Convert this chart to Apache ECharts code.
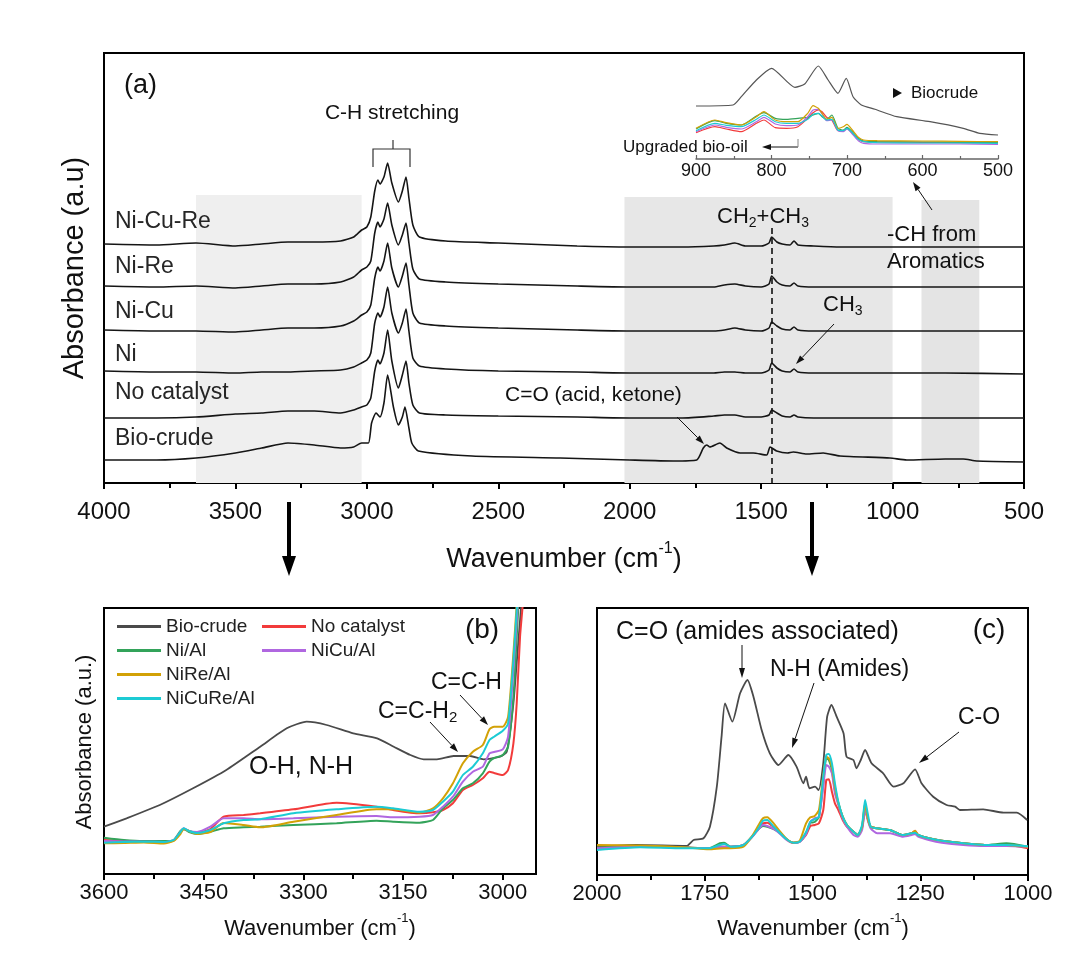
<!DOCTYPE html>
<html>
<head>
<meta charset="utf-8">
<title>FTIR spectra</title>
<script src="https://cdn.jsdelivr.net/npm/echarts@6.0.0/dist/echarts.min.js"></script>
<style>
html, body { margin: 0; padding: 0; background: #fff; }
#main { width: 1080px; height: 957px; }
</style>
</head>
<body>
<div id="main"></div>
<script>
//(a) 主图 - 催化剂各曲线共用的波数
var waveA = [4000, 3800, 3650, 3500, 3400, 3300, 3200, 3100, 3050, 3020, 3000, 2985, 2970, 2958, 2950, 2935, 2921, 2905, 2880, 2865, 2851, 2840, 2825, 2800, 2700, 2500, 2200, 2000, 1800, 1680, 1640, 1600, 1560, 1500, 1470, 1460, 1440, 1420, 1390, 1375, 1360, 1300, 1200, 1000, 800, 500];
var niCuReA = [239, 238, 240, 237, 239, 241, 241, 242, 246, 253, 256, 266, 292, 303, 299, 306, 320, 300, 281, 292, 306, 285, 258, 246, 242, 240, 237, 236, 236, 237, 238, 240, 237, 237, 240, 246, 241, 239, 238, 242, 238, 237, 236, 236, 236, 236];
var niReA = [197, 196, 197, 195, 197, 199, 199, 201, 206, 213, 216, 222, 250, 261, 256, 264, 280, 258, 238, 248, 260, 240, 214, 204, 201, 199, 197, 196, 196, 196, 198, 199, 197, 196, 199, 207, 201, 198, 197, 200, 197, 196, 196, 196, 196, 196];
var niCuA = [153, 152, 152, 151, 153, 155, 155, 157, 162, 168, 171, 178, 205, 216, 212, 222, 240, 215, 196, 207, 220, 198, 170, 160, 157, 155, 153, 152, 152, 152, 153, 155, 153, 152, 155, 161, 157, 154, 153, 156, 153, 152, 152, 152, 152, 152];
var niA = [112, 111, 111, 110, 111, 111, 112, 113, 116, 120, 123, 130, 160, 170, 166, 176, 196, 170, 150, 160, 174, 152, 125, 117, 114, 112, 111, 110, 110, 110, 111, 111, 110, 110, 113, 120, 115, 112, 111, 114, 111, 110, 110, 110, 110, 109];
var noCatA = [65, 65, 66, 69, 70, 72, 72, 70, 73, 76, 78, 85, 112, 123, 119, 130, 153, 122, 95, 108, 122, 100, 78, 70, 68, 67, 66, 65, 65, 67, 68, 68, 66, 66, 68, 73, 70, 67, 66, 68, 66, 65, 65, 65, 65, 65];
//(a) 主图 - 生物原油
var bioWaveA = [4000, 3800, 3650, 3500, 3400, 3300, 3200, 3100, 3050, 3020, 2994, 2982, 2965, 2950, 2935, 2921, 2899, 2880, 2865, 2855, 2840, 2829, 2804, 2600, 2265, 2000, 1834, 1745, 1720, 1707, 1695, 1657, 1631, 1580, 1530, 1479, 1466, 1441, 1400, 1378, 1327, 1264, 1200, 1010, 946, 800, 731, 680, 500];
var bioA = [23, 23, 25, 30, 35, 40, 38, 35, 36, 40, 40, 60, 70, 66, 80, 108, 76, 58, 66, 76, 55, 40, 32, 27, 25, 23, 22, 23, 35, 38, 36, 40, 35, 30, 30, 28, 36, 32, 30, 31, 29, 30, 27, 25, 23, 24, 24, 22, 21];
var namesA = ['Ni-Cu-Re', 'Ni-Re', 'Ni-Cu', 'Ni', 'No catalyst', 'Bio-crude'];
//(a) 阴影区间 [起, 止, 高]
var shadeA = [[3650, 3020, 288], [2020, 1000, 286], [890, 670, 283]];
var dashA = [1460, 255];

//插图 900-500
var waveIn = [900, 875, 860, 840, 820, 810, 795, 780, 765, 752, 745, 738, 733, 727, 720, 712, 705, 700, 693, 685, 678, 660, 600, 550, 500];
var goldIn = [30.7, 39, 36.3, 34, 42.3, 47.3, 39, 37.3, 37.3, 45.7, 53.3, 50.7, 45.7, 39.7, 41.7, 30.7, 32.3, 34.7, 29, 21.7, 19, 18.3, 18, 17.7, 17.3];
var greenIn = [30, 38.3, 35.7, 34, 43, 46.3, 40.7, 39.7, 40.7, 41.7, 44, 45.7, 42.3, 39.7, 44, 30.7, 29, 31.7, 27.3, 20.7, 18, 17.3, 17, 16.7, 16.7];
var cyanIn = [28.3, 35.7, 33.7, 32.3, 39.7, 44, 37.3, 35.7, 35.7, 39.7, 44.7, 45.7, 43, 39, 39.7, 29, 28.3, 30.7, 26.3, 19.7, 17.3, 16.3, 16, 16, 15.7];
var purpleIn = [27.3, 34, 31.7, 30, 37.3, 41.7, 35, 33.3, 34, 42.3, 49, 49.7, 45, 38.3, 39, 28.3, 27.3, 30, 25, 18.3, 15.7, 15, 15, 15, 14.7];
var redIn = [26.3, 32.3, 30, 27.3, 35.7, 39, 31.3, 30.7, 32.3, 40.7, 46.3, 49, 47.3, 41.7, 39, 28.3, 28.3, 30.7, 25.7, 19.7, 17.3, 17, 16.7, 16.3, 16.3];
var bioWaveIn = [900, 851, 840, 820, 800, 769, 756, 738, 725, 712, 701, 692, 681, 663, 634, 590, 546, 524, 500];
var bioIn = [53, 54, 62.3, 79, 90.7, 71.7, 75, 93, 79, 65.7, 80.7, 62.3, 54, 49.7, 42.3, 37.3, 30.7, 25.7, 24];

//(b) 3600-2950
var waveB = [3600, 3570, 3540, 3510, 3495, 3485, 3480, 3472, 3460, 3440, 3420, 3390, 3365, 3315, 3250, 3190, 3165, 3125, 3105, 3090, 3075, 3060, 3045, 3030, 3020, 3013, 3000, 2992, 2984, 2979, 2974, 2969, 2960, 2950];
var redB = [34, 33, 32.3, 32, 33.5, 42, 45, 43, 41, 45, 57.3, 59, 60.7, 64.7, 71.3, 67.3, 64, 60.7, 61.7, 64, 70.7, 84, 89, 95.7, 102.3, 101, 99, 104, 130.7, 170.7, 237.3, 277.3, 400, 520];
var greenB = [36.3, 34, 33, 33, 34, 43, 45, 42, 40, 42.3, 45.7, 46.7, 47.3, 49, 50.7, 53.3, 52.3, 51.3, 54, 65.7, 74, 85.7, 90.7, 100.7, 112.3, 116, 119, 127.3, 177.3, 237.3, 300, 360, 480, 600];
var purpleB = [33, 32.5, 32.3, 32, 34, 42, 45.7, 43, 42, 47.3, 55.7, 55.7, 54.7, 55.7, 57.3, 58, 56.7, 57.3, 59, 67.3, 77.3, 92.3, 102.3, 107.3, 120.7, 122, 124.7, 137.3, 204, 254, 310, 370, 490, 600];
var goldB = [30.7, 31, 31.5, 30.5, 33, 40, 45, 43, 40, 42, 51, 49, 46.7, 52.3, 59, 64.7, 64.7, 61.3, 65.7, 75.7, 90.7, 110.7, 122.3, 129, 144.7, 147.3, 147.3, 157, 220.7, 270, 320, 380, 500, 600];
var cyanB = [31.3, 32, 32.3, 32, 34, 42, 45.7, 43, 41, 44, 50.7, 54, 54.7, 60.7, 64.7, 67.3, 65.7, 62.3, 64, 72.3, 82.3, 99, 107.3, 120.7, 134, 137.3, 143.3, 150.7, 214, 264, 320, 380, 500, 600];
var bioWaveB = [3600, 3566, 3516, 3466, 3416, 3365, 3325, 3295, 3265, 3225, 3189, 3164, 3139, 3119, 3099, 3074, 3049, 3029, 3004, 2994, 2984, 2976, 2971, 2960, 2950];
var bioB = [47.3, 55.7, 69, 85.7, 104, 127.3, 145.7, 152.3, 149, 140.7, 135.7, 127.3, 119, 114.7, 114.7, 118, 118, 114.7, 117.3, 122.3, 170.7, 237.3, 280, 400, 500];
var ticksB = [3600, 3450, 3300, 3150, 3000];
var minorB = [3525, 3375, 3225, 3075];

//(c) 2000-1000
var waveC = [2000, 1900, 1800, 1740, 1715, 1705, 1690, 1660, 1640, 1625, 1615, 1605, 1590, 1575, 1560, 1545, 1530, 1515, 1505, 1495, 1485, 1475, 1468, 1462, 1455, 1448, 1440, 1430, 1420, 1405, 1395, 1385, 1378, 1372, 1365, 1350, 1320, 1290, 1270, 1262, 1255, 1230, 1200, 1150, 1100, 1050, 1000];
var redC = [27.5, 29, 27.7, 26.7, 28.3, 28.3, 28.3, 30, 38.3, 46.7, 51.7, 52.3, 48, 41.7, 35.7, 32.3, 33.3, 40, 49, 50, 51.7, 65, 95, 95.7, 83.3, 71.7, 65, 55, 48.3, 43.3, 40, 47, 65, 56.7, 48.3, 46.7, 45, 40, 41.7, 44.3, 40, 36.7, 34.3, 31.7, 30, 30, 26.7];
var greenC = [27.5, 29, 27.7, 26.7, 31.7, 32.3, 28.3, 30, 38.3, 46, 49, 48.3, 46, 41.7, 35.7, 32.3, 33.3, 41.7, 52, 53, 58.3, 91.7, 116.7, 115, 105, 85, 71.7, 58.3, 50, 43.3, 40, 48.3, 70, 56.7, 48.3, 46.7, 45, 40, 41.7, 42.3, 40, 36.7, 34.3, 31.7, 30, 31.7, 28.3];
var purpleC = [26.7, 28.5, 27.3, 26.7, 28.3, 28.3, 28.3, 30, 38, 46, 50, 49, 46, 41, 35, 32, 33, 41, 53.3, 56.7, 58.3, 88.3, 110, 108.3, 101.7, 81.7, 70, 56.7, 48.3, 40, 38.3, 45, 65, 55, 46.7, 41.7, 41.7, 38.3, 40, 41, 38.3, 35, 32.3, 30, 29, 29, 28];
var goldC = [30, 29.5, 27.7, 25.7, 26.5, 26.7, 26.7, 28.3, 39, 50, 56.7, 57.7, 51.7, 43.3, 36, 32.3, 34, 51.7, 57.7, 59, 65, 100, 118.3, 116.7, 108.3, 88, 72, 58.3, 50, 43.3, 40, 48.3, 71.7, 56.7, 48.3, 46.7, 45, 40, 41.7, 44.3, 40, 36.7, 34.3, 31.7, 30, 30, 28.3];
var cyanC = [25, 27.7, 26.7, 26.7, 30, 31, 28.3, 30, 38.3, 47, 54.3, 55, 48.3, 41.7, 35.7, 32.3, 33.3, 43, 53.3, 55.7, 58.3, 98.3, 120, 121, 111.7, 91.7, 73, 58.3, 50, 43.3, 40, 50, 75, 61.7, 48.3, 46.7, 45, 40, 41.7, 42.3, 40, 36.7, 34.3, 31.7, 30, 30, 28.7];
var bioWaveC = [2000, 1908, 1792, 1776, 1753, 1738, 1722, 1711, 1703, 1686, 1668, 1651, 1637, 1618, 1599, 1579, 1556, 1537, 1521, 1515, 1507, 1494, 1486, 1475, 1466, 1456, 1444, 1428, 1421, 1405, 1398, 1388, 1378, 1363, 1336, 1312, 1289, 1262, 1247, 1220, 1189, 1169, 1158, 1104, 1057, 1026, 1002];
var bioC = [28.3, 30, 29, 35, 36.7, 48.3, 88.3, 138.3, 171.7, 153.3, 181.7, 195, 178.3, 145, 121.7, 110, 120, 108.3, 91.7, 98.3, 86.7, 88.3, 85, 111.7, 158.3, 170, 158.3, 141.7, 118.3, 115, 106.7, 115, 125, 111.7, 101.7, 88.3, 91.7, 105.7, 91.7, 78.3, 70, 68.3, 65, 65.7, 62.3, 62.3, 55];
var minorC = [1875, 1625, 1375, 1125];

var FONT = 'Arial, "Liberation Sans", Helvetica, sans-serif';
var COL = {
    bio: '#4a4a4a',
    red: '#f23b3b',
    green: '#33a35a',
    purple: '#b067e0',
    gold: '#d2a106',
    cyan: '#1ccbd4'
};

//把两个数组组合成点
function zip(xs, ys) {
    var r = [];
    for (var i = 0; i < xs.length; i++) {
        r.push([xs[i], ys[i]]);
    }
    return r;
}

//刻度文字不加千分位
function plain(v) {
    return String(v);
}

//折线系列
function line(name, idx, xs, ys, color, width) {
    return {
        name: name,
        type: 'line',
        xAxisIndex: idx.x,
        yAxisIndex: idx.y,
        data: zip(xs, ys),
        symbol: 'none',
        smooth: 0.2,
        color: color,
        lineStyle: { color: color, width: width },
        silent: true
    };
}

//文本
function txt(x, y, text, size, opt) {
    opt = opt || {};
    var st = {
        text: text,
        fill: opt.color || '#111',
        fontSize: size,
        fontFamily: FONT,
        align: opt.align || 'left',
        verticalAlign: 'middle',
        textAlign: opt.align || 'left',
        textVerticalAlign: 'middle'
    };
    if (opt.rich) st.rich = opt.rich;
    return { type: 'text', x: x, y: y, rotation: opt.rot || 0, z: 100, silent: true, style: st };
}

//箭头（线 + 三角）
function arrow(x1, y1, x2, y2, lw, hl, hw, c) {
    c = c || '#111';
    var ang = Math.atan2(y2 - y1, x2 - x1);
    var bx = x2 - hl * Math.cos(ang), by = y2 - hl * Math.sin(ang);
    var px = -Math.sin(ang) * hw / 2, py = Math.cos(ang) * hw / 2;
    return [{
        type: 'line', z: 100, silent: true,
        shape: { x1: x1, y1: y1, x2: bx, y2: by },
        style: { stroke: c, lineWidth: lw }
    }, {
        type: 'polygon', z: 100, silent: true,
        shape: { points: [[x2, y2], [bx + px, by + py], [bx - px, by - py]] },
        style: { fill: c }
    }];
}

//上标 / 下标 富文本
function supRich(size) {
    return {
        n: { fontSize: size, fontFamily: FONT, lineHeight: size + 6, verticalAlign: 'bottom' },
        p: { fontSize: Math.round(size * 0.6), fontFamily: FONT, lineHeight: Math.round(size * 0.6), verticalAlign: 'top' }
    };
}
function subRich(size) {
    return {
        n: { fontSize: size, fontFamily: FONT, lineHeight: size + 2, verticalAlign: 'top' },
        b: { fontSize: Math.round(size * 0.64), fontFamily: FONT, lineHeight: Math.round(size * 0.64), padding: [Math.round(size * 0.64), 0, 0, 0], verticalAlign: 'bottom' }
    };
}

//横轴（主刻度朝外）
function xMain(grid, min, max, interval, fontSize, margin, custom) {
    var ax = {
        type: 'value', gridIndex: grid, min: min, max: max, inverse: true,
        axisLine: { show: true, onZero: false, lineStyle: { color: '#000', width: 2 } },
        axisTick: { show: true, inside: false, length: 6, lineStyle: { color: '#000', width: 2 } },
        axisLabel: { fontSize: fontSize, color: '#111', fontFamily: FONT, margin: margin, formatter: plain },
        splitLine: { show: false }
    };
    if (custom) {
        ax.axisLabel.customValues = custom;
        ax.axisTick.customValues = custom;
    } else {
        ax.interval = interval;
    }
    return ax;
}
//横轴（次刻度朝内）
function xMinor(grid, min, max, vals) {
    return {
        type: 'value', gridIndex: grid, min: min, max: max, inverse: true,
        axisLine: { show: false },
        axisTick: { show: true, inside: true, length: 5, customValues: vals, lineStyle: { color: '#000', width: 2 } },
        axisLabel: { show: false, customValues: vals },
        splitLine: { show: false }
    };
}
function yHidden(grid, max, showLine) {
    return {
        type: 'value', gridIndex: grid, min: 0, max: max,
        axisLine: { show: showLine, lineStyle: { color: '#000', width: 2 } },
        axisTick: { show: false },
        axisLabel: { show: false },
        splitLine: { show: false }
    };
}

function initChart() {
    var myChart = echarts.init(document.getElementById('main'));

    var series = [];
    //(a)
    var bioSerie = line('Bio-crude (a)', { x: 0, y: 0 }, bioWaveA, bioA, '#151515', 1.6);
    var areas = [];
    var shadeCol = ['#efefef', '#e7e7e7', '#e4e4e4'];
    for (var i = 0; i < shadeA.length; i++) {
        areas.push([{ xAxis: shadeA[i][0], yAxis: shadeA[i][2], itemStyle: { color: shadeCol[i] } }, { xAxis: shadeA[i][1], yAxis: 0 }]);
    }
    bioSerie.markArea = { silent: true, data: areas };
    bioSerie.markLine = {
        silent: true, symbol: ['none', 'none'], label: { show: false },
        lineStyle: { type: [6, 4], color: '#111', width: 1.6 },
        data: [[{ coord: [dashA[0], dashA[1]] }, { coord: [dashA[0], 0] }]]
    };
    series.push(bioSerie);
    var aData = [niCuReA, niReA, niCuA, niA, noCatA];
    for (var j = 0; j < aData.length; j++) {
        series.push(line(namesA[j] + ' (a)', { x: 0, y: 0 }, waveA, aData[j], '#151515', 1.6));
    }
    //插图
    series.push(line('Biocrude inset', { x: 2, y: 1 }, bioWaveIn, bioIn, '#555', 1.2));
    series.push(line('No catalyst inset', { x: 2, y: 1 }, waveIn, redIn, COL.red, 1.2));
    series.push(line('Ni inset', { x: 2, y: 1 }, waveIn, greenIn, COL.green, 1.2));
    series.push(line('NiCu inset', { x: 2, y: 1 }, waveIn, purpleIn, COL.purple, 1.2));
    series.push(line('NiRe inset', { x: 2, y: 1 }, waveIn, goldIn, COL.gold, 1.2));
    series.push(line('NiCuRe inset', { x: 2, y: 1 }, waveIn, cyanIn, COL.cyan, 1.2));
    //(b)
    series.push(line('Bio-crude', { x: 3, y: 2 }, bioWaveB, bioB, COL.bio, 1.8));
    series.push(line('No catalyst', { x: 3, y: 2 }, waveB, redB, COL.red, 2));
    series.push(line('Ni/Al', { x: 3, y: 2 }, waveB, greenB, COL.green, 2));
    series.push(line('NiCu/Al', { x: 3, y: 2 }, waveB, purpleB, COL.purple, 2));
    series.push(line('NiRe/Al', { x: 3, y: 2 }, waveB, goldB, COL.gold, 2));
    series.push(line('NiCuRe/Al', { x: 3, y: 2 }, waveB, cyanB, COL.cyan, 2));
    //(c)
    series.push(line('Bio-crude', { x: 5, y: 3 }, bioWaveC, bioC, COL.bio, 1.8));
    series.push(line('No catalyst', { x: 5, y: 3 }, waveC, redC, COL.red, 2));
    series.push(line('Ni/Al', { x: 5, y: 3 }, waveC, greenC, COL.green, 2));
    series.push(line('NiCu/Al', { x: 5, y: 3 }, waveC, purpleC, COL.purple, 2));
    series.push(line('NiRe/Al', { x: 5, y: 3 }, waveC, goldC, COL.gold, 2));
    series.push(line('NiCuRe/Al', { x: 5, y: 3 }, waveC, cyanC, COL.cyan, 2));

    //坐标轴
    var insetAxis = {
        type: 'value', gridIndex: 1, min: 500, max: 900, interval: 100, inverse: true,
        axisLine: { show: true, onZero: false, lineStyle: { color: '#666', width: 1.5 } },
        axisTick: { show: true, inside: true, length: 4, lineStyle: { color: '#666', width: 1.2 } },
        minorTick: { show: true, splitNumber: 2, length: 3, lineStyle: { color: '#666', width: 1.2 } },
        axisLabel: { fontSize: 18, color: '#111', fontFamily: FONT, margin: 3, formatter: plain },
        splitLine: { show: false }
    };
    var xAxis = [
        xMain(0, 500, 4000, 500, 24, 17),
        xMinor(0, 500, 4000, [3750, 3250, 2750, 2250, 1750, 1250, 750]),
        insetAxis,
        xMain(2, 2950, 3600, null, 22, 8, ticksB),
        xMinor(2, 2950, 3600, minorB),
        xMain(3, 1000, 2000, 250, 22, 8),
        xMinor(3, 1000, 2000, minorC)
    ];
    var yAxis = [yHidden(0, 430, true), yHidden(1, 97, false), yHidden(2, 266, true), yHidden(3, 267, true)];

    var frame = { show: true, borderColor: '#000', borderWidth: 2, backgroundColor: 'transparent' };
    var grid = [
        Object.assign({ left: 104, top: 53, width: 920, height: 430 }, frame),
        { left: 696, top: 62, width: 302, height: 97, show: false },
        Object.assign({ left: 104, top: 608, width: 432, height: 266 }, frame),
        Object.assign({ left: 597, top: 608, width: 431, height: 267 }, frame)
    ];

    var legendBase = {
        orient: 'vertical', top: 617, padding: 0, itemWidth: 44, itemHeight: 3, itemGap: 5,
        icon: 'rect', selectedMode: false,
        textStyle: { fontSize: 19, color: '#222', fontFamily: FONT, lineHeight: 19 }
    };
    var legend = [
        Object.assign({ left: 117, data: ['Bio-crude', 'Ni/Al', 'NiRe/Al', 'NiCuRe/Al'] }, legendBase),
        Object.assign({ left: 262, data: ['No catalyst', 'NiCu/Al'] }, legendBase)
    ];

    //标注
    var g = [];
    g.push(txt(124, 86, '(a)', 27));
    g.push(txt(392, 113, 'C-H stretching', 21, { align: 'center' }));
    g.push({ type: 'polyline', z: 100, silent: true, shape: { points: [[373, 167], [373, 149], [410, 149], [410, 167]] }, style: { stroke: '#333', lineWidth: 1.2, fill: null } });
    g.push({ type: 'line', z: 100, silent: true, shape: { x1: 393, y1: 149, x2: 393, y2: 140 }, style: { stroke: '#333', lineWidth: 1.2 } });
    var labelY = [222, 267, 312, 355, 393, 439];
    for (var k = 0; k < namesA.length; k++) {
        g.push(txt(115, labelY[k], namesA[k], 23, { color: '#262626' }));
    }
    g.push(txt(505, 395, 'C=O (acid, ketone)', 21));
    g = g.concat(arrow(677, 417, 704, 444, 1, 9, 6));
    g.push(txt(763, 218, '{n|CH}{b|2}{n|+CH}{b|3}', 22, { align: 'center', rich: subRich(22) }));
    g.push(txt(823, 306, '{n|CH}{b|3}', 22, { rich: subRich(22) }));
    g = g.concat(arrow(834, 324, 796, 364, 1, 9, 6));
    g.push(txt(887, 235, '-CH from', 22));
    g.push(txt(887, 262, 'Aromatics', 22));
    g = g.concat(arrow(932, 210, 913, 182, 1, 9, 6));
    g.push({ type: 'polygon', z: 100, silent: true, shape: { points: [[893, 88], [902, 93], [893, 98]] }, style: { fill: '#111' } });
    g.push(txt(911, 93, 'Biocrude', 17));
    g.push(txt(623, 147, 'Upgraded bio-oil', 17));
    g = g.concat(arrow(798, 147, 762, 147, 1, 9, 6));
    g.push({ type: 'line', z: 100, silent: true, shape: { x1: 798, y1: 139, x2: 798, y2: 147 }, style: { stroke: '#888', lineWidth: 1 } });
    g.push(txt(564, 557, '{n|Wavenumber (cm}{p|-1}{n|)}', 27, { align: 'center', rich: supRich(27) }));
    g.push(txt(75, 268, 'Absorbance (a.u)', 29, { align: 'center', rot: Math.PI / 2 }));
    g = g.concat(arrow(289, 502, 289, 576, 4, 20, 14, '#000'));
    g = g.concat(arrow(812, 502, 812, 576, 4, 20, 14, '#000'));
    //(b)
    g.push(txt(482, 630, '(b)', 28, { align: 'center' }));
    g.push(txt(431, 683, 'C=C-H', 23));
    g.push(txt(378, 713, '{n|C=C-H}{b|2}', 23, { rich: subRich(23) }));
    g.push(txt(249, 767, 'O-H, N-H', 25));
    g = g.concat(arrow(460, 695, 488, 725, 1, 9, 6));
    g = g.concat(arrow(430, 722, 458, 752, 1, 9, 6));
    g.push(txt(85, 742, 'Absorbance (a.u.)', 22, { align: 'center', rot: Math.PI / 2 }));
    g.push(txt(320, 926, '{n|Wavenumber (cm}{p|-1}{n|)}', 22, { align: 'center', rich: supRich(22) }));
    //(c)
    g.push(txt(989, 630, '(c)', 28, { align: 'center' }));
    g.push(txt(616, 632, 'C=O (amides associated)', 25));
    g = g.concat(arrow(742, 645, 742, 678, 1, 10, 6));
    g.push(txt(770, 670, 'N-H (Amides)', 23));
    g = g.concat(arrow(814, 683, 792, 748, 1, 10, 6));
    g.push(txt(958, 718, 'C-O', 23));
    g = g.concat(arrow(959, 732, 919, 763, 1, 10, 6));
    g.push(txt(813, 926, '{n|Wavenumber (cm}{p|-1}{n|)}', 22, { align: 'center', rich: supRich(22) }));

    var option = {
        animation: false,
        backgroundColor: '#fff',
        textStyle: { fontFamily: FONT },
        grid: grid,
        xAxis: xAxis,
        yAxis: yAxis,
        legend: legend,
        series: series,
        graphic: { elements: g }
    };
    myChart.setOption(option);
}

initChart();
</script>
</body>
</html>
